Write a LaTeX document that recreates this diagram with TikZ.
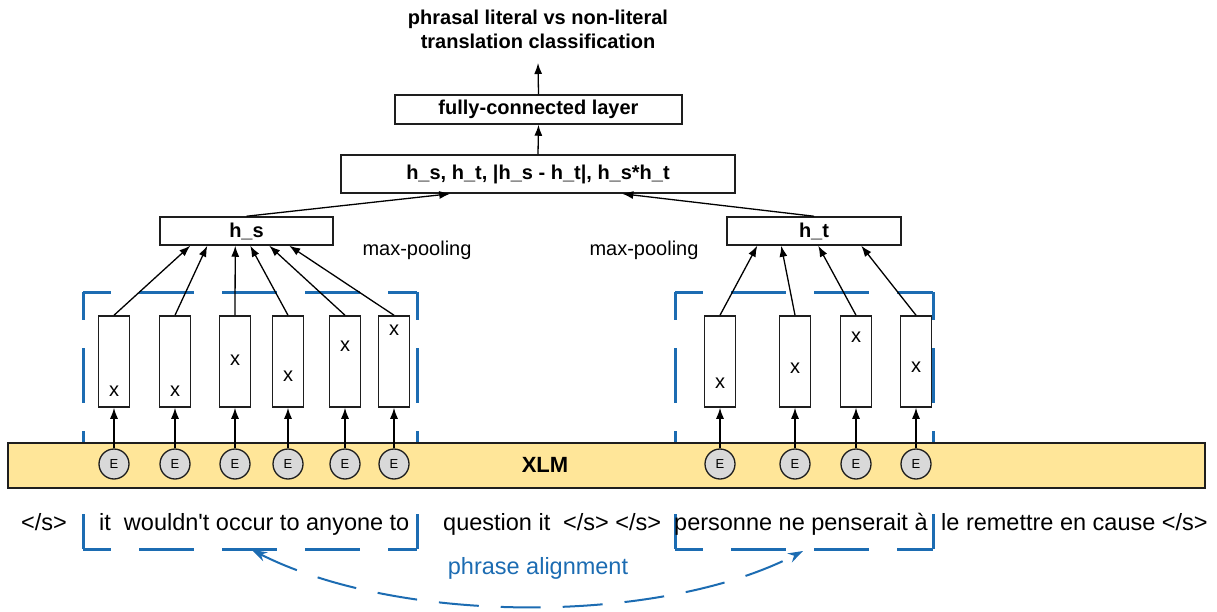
\documentclass[tikz,border=0pt]{standalone}
\usepackage{fontspec}
\setmainfont{Liberation Sans}[Ligatures=TeXOff]
\usetikzlibrary{arrows.meta,calc}
\definecolor{ablue}{RGB}{28,108,178}
\definecolor{barfill}{RGB}{255,230,153}
\definecolor{efill}{RGB}{217,217,217}
\definecolor{dk}{RGB}{30,30,30}
\begin{document}
\begin{tikzpicture}[x=1pt,y=-1pt,
  box/.style={draw=dk,line width=1.5pt,fill=white,inner sep=0pt,font=\fontsize{20}{24}\selectfont\bfseries},
  col/.style={draw=dk,line width=1.5pt,fill=white,inner sep=0pt,minimum width=31pt,minimum height=91pt},
  enode/.style={circle,draw=dk,line width=1.3pt,fill=efill,inner sep=0pt,minimum size=30pt,font=\fontsize{13}{15}\selectfont},
  xlab/.style={inner sep=0pt,font=\fontsize{20}{24}\selectfont},
  arr/.style={draw=black,line width=1.3pt,-{Latex[length=11pt,width=8pt]}},
  dbox/.style={draw=ablue,line width=3pt,dash pattern=on 55pt off 28pt,dash phase=27pt},
  wtxt/.style={inner sep=0pt,anchor=base west,font=\fontsize{23.5}{28}\selectfont}
]
\useasboundingbox (0,0) rectangle (1217,612);

% dashed phrase boxes
\draw[dbox] (83,292) -- (417,292);
\draw[dbox] (83,292) -- (83,549);
\draw[dbox] (417,292) -- (417,549);
\draw[dbox] (83,549) -- (417,549);
\draw[dbox] (675,292) -- (933,292);
\draw[dbox] (675,292) -- (675,549);
\draw[dbox] (933,292) -- (933,549);
\draw[dbox] (675,549) -- (933,549);

% XLM bar
\node[draw=dk,line width=1.5pt,fill=barfill,inner sep=0pt,minimum width=1197pt,minimum height=45pt] (bar) at (606.5,465.5) {};
\node[inner sep=0pt,font=\fontsize{22}{26}\selectfont\bfseries] (xlm) at (545,465) {XLM};

% top boxes
\node[inner sep=0pt,align=center,font=\fontsize{20}{24}\selectfont\bfseries] (title) at (538,29) {phrasal literal vs non-literal\\translation classification};
\coordinate (tout) at (538,63);
\node[box,minimum width=287pt,minimum height=29pt] (fc) at (538.5,109.5) {fully-connected layer};
\node[box,minimum width=394pt,minimum height=38pt] (cat) at (538,174) {h\_s, h\_t, |h\_s - h\_t|, h\_s*h\_t};
\node[box,minimum width=173pt,minimum height=28pt] (hs) at (246.5,231) {h\_s};
\node[box,minimum width=174pt,minimum height=28pt] (ht) at (814,231) {h\_t};
\node[inner sep=0pt,font=\fontsize{20}{24}\selectfont] (mp1) at (417,250) {max-pooling};
\node[inner sep=0pt,font=\fontsize{20}{24}\selectfont] (mp2) at (644,250) {max-pooling};

\draw[arr] (fc.north) -- (tout);
\draw[arr] (cat.north) -- (fc.south);
\draw[arr] (hs.north) -- ([xshift=110pt]cat.south west);
\draw[arr] (ht.north) -- ([xshift=282pt]cat.south west);

% left columns
\foreach \i/\x/\xy/\tip in {1/114/391/31,2/175/391/48,3/235/360/76,4/288/376/91,5/345/346/110,6/394/330/130}{
  \node[col] (l\i) at (\x,361.5) {};
  \node[xlab] (lx\i) at (\x,\xy) {x};
  \node[enode] (le\i) at (\x,464) {E};
  \draw[arr] (le\i.north) -- (l\i.south);
  \draw[arr] (l\i.north) -- ([xshift=\tip pt]hs.south west);
}
% right columns
\foreach \i/\x/\xy/\tip in {1/720/383/31,2/795/368/55,3/856/337/92,4/916/367/135}{
  \node[col] (r\i) at (\x,361.5) {};
  \node[xlab] (rx\i) at (\x,\xy) {x};
  \node[enode] (re\i) at (\x,464) {E};
  \draw[arr] (re\i.north) -- (r\i.south);
  \draw[arr] (r\i.north) -- ([xshift=\tip pt]ht.south west);
}

% words
\node[wtxt] (w1) at (21,530) {</s>};
\node[wtxt] (w2) at (99,530) {it\ \ wouldn't occur to anyone to};
\node[wtxt] (w3) at (443,530) {question it};
\node[wtxt] (w4) at (563,530) {</s> </s>};
\node[wtxt] (w5) at (674,530) {personne ne penserait à};
\node[wtxt] (w6) at (941,530) {le remettre en cause </s>};

% alignment
\node[inner sep=0pt,text=ablue,font=\fontsize{23.5}{28}\selectfont] (pa) at (538,568) {phrase alignment};
\coordinate (la) at (252,550);
\coordinate (ra) at (803,551);
\draw[ablue,line width=2pt,dash pattern=on 40pt off 22pt,{Stealth[length=15pt,width=10pt]}-{Stealth[length=15pt,width=10pt]}] (la) .. controls (400,625) and (660,625) .. (ra);
\end{tikzpicture}
\end{document}
